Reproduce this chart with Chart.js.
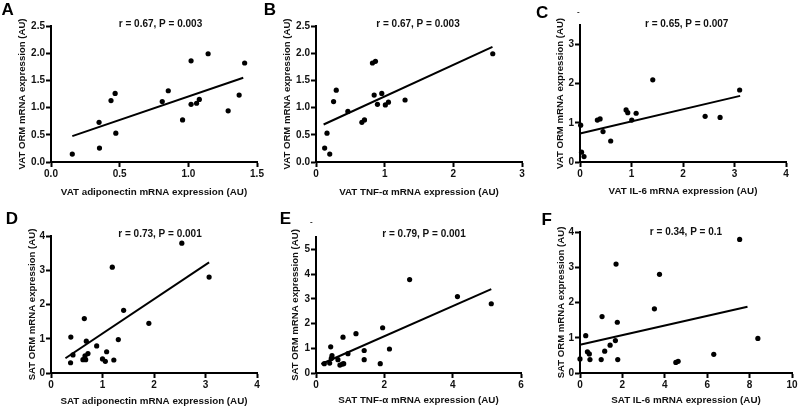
<!DOCTYPE html>
<html>
<head>
<meta charset="utf-8">
<script src="https://cdn.jsdelivr.net/npm/chart.js@4"></script>
<style>
  body { margin: 0; background: #fff; }
  #wrap { position: relative; width: 799px; height: 408px; overflow: hidden; }
  canvas { position: absolute; }
  .letter { position: absolute; font: bold 17px "Liberation Sans", Arial, sans-serif; line-height: 17px; color: #000; }
  .dash { position: absolute; font: bold 8px "Liberation Sans", Arial, sans-serif; line-height: 8px; color: #222; }
</style>
</head>
<body>
<div id="wrap">
  <canvas id="cA" width="265" height="200" style="left:0;top:0"></canvas>
  <canvas id="cB" width="265" height="200" style="left:265px;top:0"></canvas>
  <canvas id="cC" width="269" height="200" style="left:530px;top:0"></canvas>
  <canvas id="cD" width="265" height="208" style="left:0;top:200px"></canvas>
  <canvas id="cE" width="265" height="208" style="left:265px;top:200px"></canvas>
  <canvas id="cF" width="269" height="208" style="left:530px;top:200px"></canvas>
  <div class="letter" style="left:1.5px;top:0.6px">A</div>
  <div class="letter" style="left:263.7px;top:0.6px">B</div>
  <div class="letter" style="left:536px;top:3.6px">C</div>
  <div class="letter" style="left:5.7px;top:209.6px">D</div>
  <div class="letter" style="left:279.7px;top:210px">E</div>
  <div class="letter" style="left:541.4px;top:210.6px">F</div>
  <div class="dash" style="left:577px;top:8px">-</div>
  <div class="dash" style="left:310px;top:218px">-</div>
</div>
<script>
// values
const aX = [0.155, 0.353, 0.35, 0.437, 0.467, 0.472, 0.81, 0.854, 0.958, 1.02, 1.02, 1.06, 1.08, 1.144, 1.29, 1.37, 1.41];
const aY = [0.146, 0.256, 0.73, 1.13, 1.26, 0.53, 1.11, 1.31, 0.774, 1.86, 1.06, 1.08, 1.15, 1.99, 0.94, 1.23, 1.82];
const aFitX = [0.155, 1.40];
const aFitY = [0.476, 1.55];

const bX = [0.126, 0.16, 0.2, 0.256, 0.295, 0.464, 0.668, 0.706, 0.822, 0.866, 0.847, 0.895, 0.958, 1.01, 1.055, 1.297, 2.574];
const bY = [0.256, 0.53, 0.146, 1.11, 1.32, 0.93, 0.73, 0.774, 1.82, 1.85, 1.23, 1.06, 1.26, 1.05, 1.10, 1.14, 1.99];
const bFitX = [0.111, 2.57];
const bFitY = [0.689, 2.116];

const cX = [0.013, 0.03, 0.078, 0.337, 0.39, 0.447, 0.596, 0.895, 0.927, 1.005, 1.09, 1.413, 2.43, 2.72, 3.10];
const cY = [0.94, 0.25, 0.138, 1.07, 1.10, 0.778, 0.536, 1.33, 1.26, 1.07, 1.245, 2.1, 1.167, 1.14, 1.84];
const cFitX = [0, 3.11];
const cFitY = [0.726, 1.69];

const dX = [0.38, 0.385, 0.427, 0.62, 0.647, 0.673, 0.686, 0.718, 0.66, 0.887, 1.0, 1.055, 1.08, 1.19, 1.22, 1.307, 1.41, 1.9, 2.54, 3.07];
const dY = [0.30, 1.05, 0.527, 0.39, 1.59, 0.39, 0.93, 0.566, 0.50, 0.79, 0.41, 0.34, 0.62, 3.09, 0.38, 0.976, 1.83, 1.45, 3.79, 2.80];
const dFitX = [0.28, 3.07];
const dFitY = [0.43, 3.23];

const eX = [0.243, 0.4, 0.43, 0.448, 0.468, 0.643, 0.70, 0.77, 0.81, 0.79, 0.935, 1.17, 1.41, 1.41, 1.88, 1.95, 2.15, 2.74, 4.14, 5.13];
const eY = [0.376, 0.40, 1.06, 0.59, 0.70, 0.54, 0.32, 0.36, 0.376, 1.45, 0.78, 1.59, 0.91, 0.54, 0.376, 1.83, 0.97, 3.78, 3.09, 2.80];
const eFitX = [0.156, 5.13];
const eFitY = [0.363, 3.39];

const fX = [0, 0.27, 0.35, 0.44, 0.47, 1.0, 1.04, 1.165, 1.42, 1.67, 1.70, 1.76, 1.78, 3.51, 3.75, 4.52, 4.63, 6.31, 7.53, 8.39];
const fY = [0.40, 1.06, 0.60, 0.54, 0.38, 0.38, 1.60, 0.62, 0.79, 0.92, 3.09, 1.44, 0.38, 1.82, 2.80, 0.30, 0.33, 0.53, 3.79, 0.98];
const fFitX = [0, 7.9];
const fFitY = [0.80, 1.88];

const notes = ['r = 0.67, P = 0.003', 'r = 0.67, P = 0.003', 'r = 0.65, P = 0.007',
               'r = 0.73, P = 0.001', 'r = 0.79, P = 0.001', 'r = 0.34, P = 0.1'];
const xTitles = ['VAT adiponectin mRNA expression (AU)', 'VAT TNF-\u03b1 mRNA expression (AU)', 'VAT IL-6 mRNA expression (AU)',
                 'SAT adiponectin mRNA expression (AU)', 'SAT TNF-\u03b1 mRNA expression (AU)', 'SAT IL-6 mRNA expression (AU)'];
const yTitles = ['VAT ORM mRNA expression (AU)', 'VAT ORM mRNA expression (AU)', 'VAT ORM mRNA expression (AU)',
                 'SAT ORM mRNA expression (AU)', 'SAT ORM mRNA expression (AU)', 'SAT ORM mRNA expression (AU)'];

const FONT = '"Liberation Sans", Arial, sans-serif';

// draws the r/P note and both axis titles
const panelText = {
  id: 'panelText',
  afterDraw(chart, args, o) {
    const ctx = chart.ctx, a = chart.chartArea;
    ctx.save();
    ctx.fillStyle = '#111';
    ctx.textAlign = 'center';
    ctx.textBaseline = 'middle';
    ctx.font = 'bold 10px ' + FONT;
    ctx.fillText(o.note, o.noteX, o.noteY);
    ctx.font = 'bold 9.8px ' + FONT;
    ctx.fillText(o.xTitle, (a.left + a.right) / 2, o.xTitleY);
    ctx.font = 'bold 9.6px ' + FONT;
    ctx.translate(o.yTitleX, (a.top + a.bottom) / 2);
    ctx.rotate(-Math.PI / 2);
    ctx.fillText(o.yTitle, 0, 0);
    ctx.restore();
  }
};

function pts(xs, ys) {
  return xs.map((x, i) => ({ x: x, y: ys[i] }));
}

function makePanel(id, i, xs, ys, fitX, fitY, s) {
  const axisCommon = {
    type: 'linear',
    min: 0,
    border: { display: true, color: '#000', width: 2 },
    grid: { display: true, drawOnChartArea: false, drawTicks: true, tickLength: 5, tickWidth: 2, tickColor: '#000' },
  };
  new Chart(document.getElementById(id), {
    type: 'scatter',
    data: {
      datasets: [
        { data: pts(xs, ys), backgroundColor: '#000', borderWidth: 0, pointRadius: 2.6, clip: false },
        { data: pts(fitX, fitY), showLine: true, borderColor: '#000', borderWidth: 2, pointRadius: 0, clip: false }
      ]
    },
    options: {
      responsive: false,
      animation: false,
      events: [],
      layout: { padding: { left: 0, top: s.t, right: s.w - s.r, bottom: 0 } },
      plugins: {
        legend: { display: false },
        tooltip: { enabled: false },
        panelText: { note: notes[i], noteX: s.noteX, noteY: s.noteY, xTitle: xTitles[i], xTitleY: s.xTitleY, yTitle: yTitles[i], yTitleX: s.yTitleX }
      },
      scales: {
        x: Object.assign({}, axisCommon, {
          max: s.xMax,
          ticks: { stepSize: s.xStep, color: '#111', padding: 1, maxRotation: 0, autoSkip: false, includeBounds: false,
                   font: { family: FONT, size: 10, weight: 'bold' },
                   callback: v => s.xDec ? v.toFixed(1) : v },
          afterFit: sc => { sc.height = s.h - s.b; sc.paddingLeft = 0; sc.paddingRight = 0; }
        }),
        y: Object.assign({}, axisCommon, {
          max: s.yMax,
          ticks: { stepSize: s.yStep, color: '#111', padding: 1, autoSkip: false, includeBounds: false,
                   font: { family: FONT, size: 10, weight: 'bold' },
                   callback: v => s.yDec ? v.toFixed(1) : v },
          afterFit: sc => { sc.width = s.l; sc.paddingTop = 0; sc.paddingBottom = 0; }
        })
      }
    },
    plugins: [panelText]
  });
}

makePanel('cA', 0, aX, aY, aFitX, aFitY, { w: 265, h: 200, l: 51, r: 257, t: 26, b: 162, xMax: 1.5, xStep: 0.5, xDec: true, yMax: 2.5, yStep: 0.5, yDec: true, noteX: 160.5, noteY: 24, xTitleY: 192.7, yTitleX: 22.7 });
makePanel('cB', 1, bX, bY, bFitX, bFitY, { w: 265, h: 200, l: 51, r: 257, t: 26, b: 162, xMax: 3, xStep: 1, yMax: 2.5, yStep: 0.5, yDec: true, noteX: 153, noteY: 24, xTitleY: 192.7, yTitleX: 22.7 });
makePanel('cC', 2, cX, cY, cFitX, cFitY, { w: 269, h: 200, l: 50, r: 256, t: 25, b: 162, xMax: 4, xStep: 1, yMax: 3.5, yStep: 1, noteX: 156.7, noteY: 24, xTitleY: 191.7, yTitleX: 30.7 });
makePanel('cD', 3, dX, dY, dFitX, dFitY, { w: 265, h: 208, l: 51, r: 257, t: 36, b: 173, xMax: 4, xStep: 1, yMax: 4, yStep: 1, noteX: 160, noteY: 34, xTitleY: 201.7, yTitleX: 32 });
makePanel('cE', 4, eX, eY, eFitX, eFitY, { w: 265, h: 208, l: 51, r: 256, t: 37, b: 173, xMax: 6, xStep: 2, yMax: 5.5, yStep: 1, noteX: 159, noteY: 34, xTitleY: 200.7, yTitleX: 30.7 });
makePanel('cF', 5, fX, fY, fFitX, fFitY, { w: 269, h: 208, l: 50, r: 262, t: 32, b: 173, xMax: 10, xStep: 2, yMax: 4, yStep: 1, noteX: 156, noteY: 32, xTitleY: 200, yTitleX: 31.7 });
</script>
</body>
</html>
